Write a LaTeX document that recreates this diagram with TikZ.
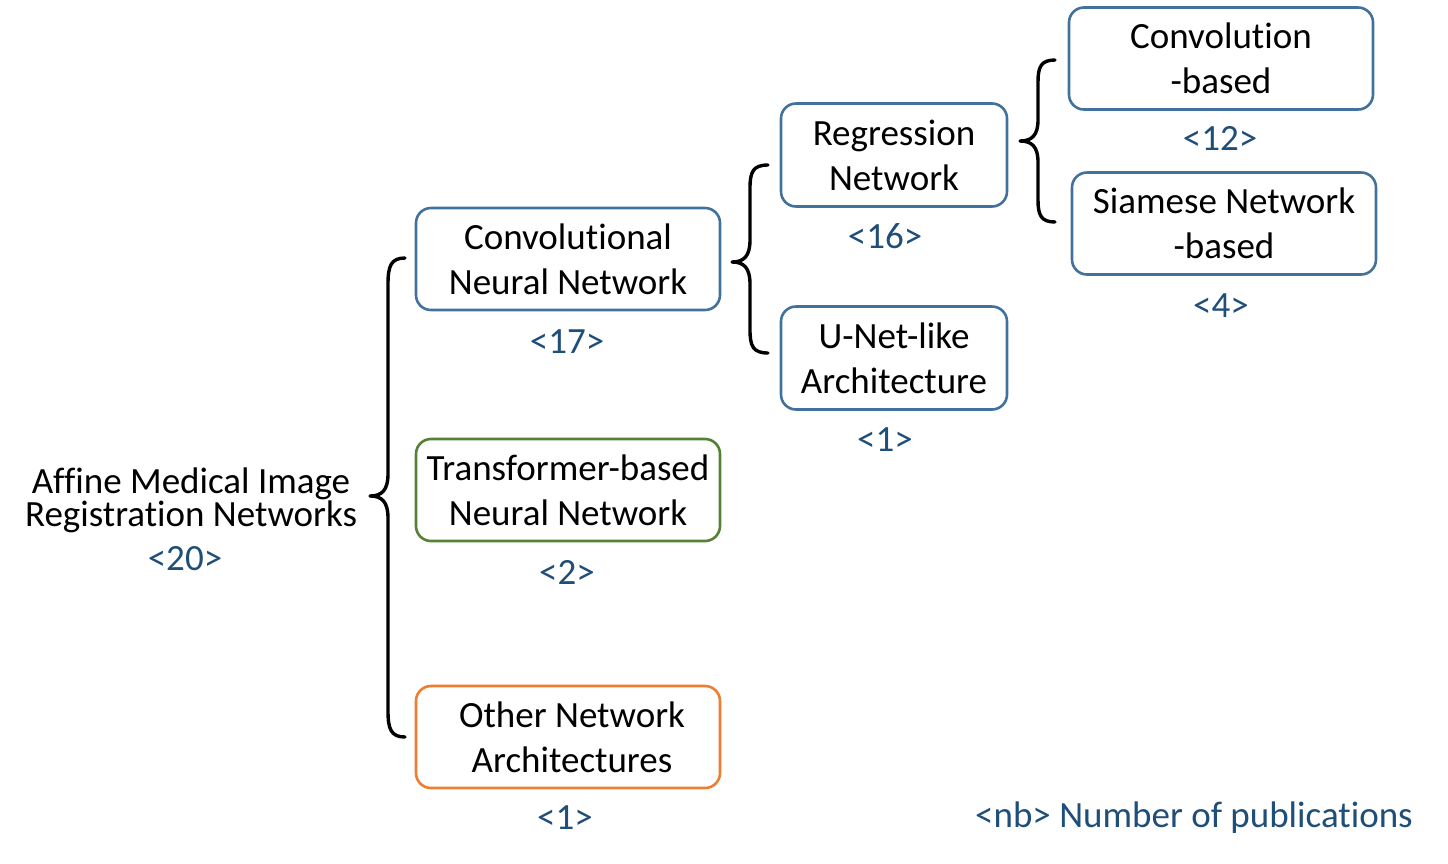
\documentclass[tikz,border=0pt]{standalone}
\usepackage{fontspec}
\setmainfont{Carlito}[Ligatures={NoCommon}]
\definecolor{boxblue}{HTML}{41719C}
\definecolor{boxgreen}{HTML}{548235}
\definecolor{boxorange}{HTML}{ED7D31}
\definecolor{numblue}{HTML}{1F4E79}
\begin{document}
\begin{tikzpicture}[x=1pt,y=-1pt,
  catbox/.style={draw=boxblue, line width=2.6pt, rounded corners=15pt, align=center,
    inner sep=0pt, font=\fontsize{37}{45}\selectfont, text=black},
  wide/.style={minimum width=304pt, minimum height=102pt},
  narrow/.style={minimum width=226pt, minimum height=103pt},
  count/.style={text=numblue, font=\fontsize{37}{40}\selectfont, inner sep=0pt},
  bracel/.style={line width=3.4pt, line cap=round, line join=round}]
\useasboundingbox (0,0) rectangle (1448,863);

% root
\node[align=center, font=\fontsize{37}{32}\selectfont, inner sep=0pt] (root) at (191,500) {Affine Medical Image\\Registration Networks};
\node[count] (n20) at (185,559) {<20>};

% level 1
\node[catbox, wide] (cnn) at (568,259) {Convolutional\\Neural Network};
\node[count] (n17) at (567,342) {<17>};
\node[catbox, wide, draw=boxgreen] (trans) at (568,490) {Transformer-based\\Neural Network};
\node[count] (n2) at (567,572) {<2>};
\node[catbox, wide, draw=boxorange] (other) at (568,737) {\hspace*{8pt}Other Network\\\hspace*{8pt}Architectures};
\node[count] (n1a) at (565,818) {<1>};

% level 2
\node[catbox, narrow] (reg) at (894,155) {Regression\\Network};
\node[count] (n16) at (885,236) {<16>};
\node[catbox, narrow] (unet) at (894,358) {U-Net-like\\Architecture};
\node[count] (n1b) at (885,440) {<1>};

% level 3
\node[catbox, wide] (conv) at (1221,58.5) {Convolution\\-based};
\node[count] (n12) at (1220,138) {<12>};
\node[catbox, wide] (siam) at (1224,223.5) {Siamese Network\\-based};
\node[count] (n4) at (1221,306) {<4>};

% legend
\node[count, anchor=west] (legend) at (975,818) {<nb> Number of publications};

% brace coordinates
\coordinate (b1t) at (405,258);
\coordinate (b1m) at (370,496);
\coordinate (b1b) at (405,737);
\coordinate (b2t) at (768,165);
\coordinate (b2m) at (732,262);
\coordinate (b2b) at (768,353);
\coordinate (b3t) at (1055,60);
\coordinate (b3m) at (1020,141);
\coordinate (b3b) at (1055,222);

% big brace
\draw[bracel] (b1t) .. controls (391,258) and (388,266) .. (388,284) -- (388,474)
  .. controls (388,490) and (382,496) .. (b1m)
  .. controls (382,496) and (388,502) .. (388,518) -- (388,711)
  .. controls (388,729) and (391,737) .. (b1b);
% CNN brace
\draw[bracel] (b2t) .. controls (753,165) and (750,172) .. (750,188) -- (750,240)
  .. controls (750,256) and (744,262) .. (b2m)
  .. controls (744,262) and (750,268) .. (750,284) -- (750,330)
  .. controls (750,346) and (753,353) .. (b2b);
% Regression brace
\draw[bracel] (b3t) .. controls (1041,60) and (1038,67) .. (1038,82) -- (1038,120)
  .. controls (1038,135) and (1032,141) .. (b3m)
  .. controls (1032,141) and (1038,147) .. (1038,162) -- (1038,200)
  .. controls (1038,215) and (1041,222) .. (b3b);
\end{tikzpicture}
\end{document}
